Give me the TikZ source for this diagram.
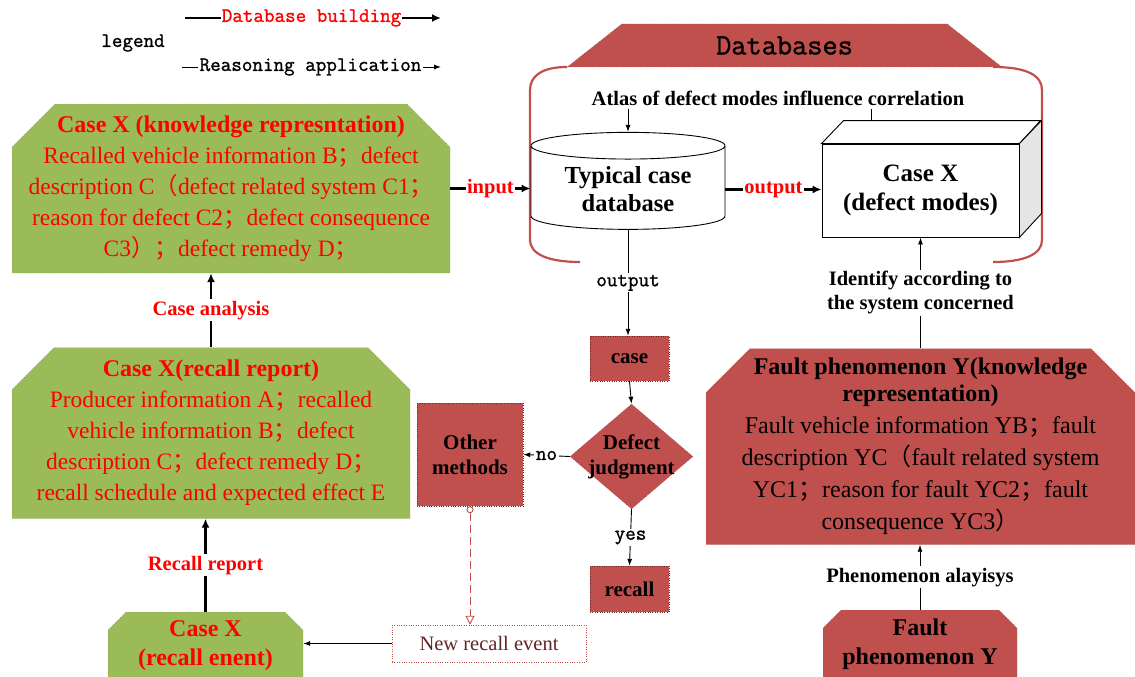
\documentclass[tikz,border=0pt]{standalone}
\usepackage{fontspec}
\setmainfont{Liberation Serif}
\setmonofont{Latin Modern Mono}[FakeBold=1.2]
\newfontfamily\cjkfont{Noto Sans CJK SC}
\newcommand{\cj}[1]{{\cjkfont #1}}
\newcommand{\fs}[2]{\fontsize{#1}{#2}\selectfont}
\usetikzlibrary{shapes.geometric,shapes.misc,arrows.meta,calc}
\definecolor{boxgreen}{RGB}{155,187,89}
\definecolor{boxred}{RGB}{192,80,77}
\definecolor{eventtext}{RGB}{99,37,35}

\begin{document}
\begin{tikzpicture}[x=1pt,y=-1pt]
	\tikzset{
		greenbox/.style={chamfered rectangle, chamfered rectangle corners={north west,north east},
			fill=boxgreen, draw=black!65, dotted, text=red, align=center, inner sep=0pt},
		redbox/.style={fill=boxred, draw=boxred!55!black, dotted, align=center,
			font=\bfseries\fs{21}{25}, inner sep=0pt},
		mono/.style={font=\ttfamily\fs{20.5}{20}},
		lab/.style={fill=white, inner sep=1.5pt},
		redlab/.style={lab, text=red, font=\bfseries\fs{20.5}{22}},
		fat/.style={line width=2.2pt, -{Latex[length=9pt,width=8pt]}},
		slim/.style={line width=0.9pt, -{Latex[length=7pt,width=5pt]}}
	}
	\useasboundingbox (0,0) rectangle (1135,677);

	% legend
	\node[mono] (legend) at (133,43) {legend};
	\node[mono, text=red, inner sep=1pt] (dbleg) at (311.5,18) {Database building};
	\node[mono, inner sep=1pt] (raleg) at (310.5,67) {Reasoning application};
	\coordinate (dbL) at (185,18);
	\coordinate (dbR) at (441,18);
	\coordinate (raL) at (182,67);
	\coordinate (raR) at (441,67);
	\draw[line width=2.2pt] (dbL) -- (dbleg.west);
	\draw[fat] (dbleg.east) -- (dbR);
	\draw[line width=0.9pt] (raL) -- (raleg.west);
	\draw[slim] (raleg.east) -- (raR);

	% databases
	\draw[boxred, line width=2.2pt] (567,67) .. controls (542,67) and (530,76) .. (530,90)
		-- (530,240) .. controls (530,254) and (548,262) .. (580,262);
	\draw[boxred, line width=2.2pt] (993,67) .. controls (1028,67) and (1042,76) .. (1042,90)
		-- (1042,240) .. controls (1042,254) and (1025,262) .. (993,262);
	\node[trapezium, trapezium angle=46, trapezium stretches=true, minimum width=435, minimum height=43,
		fill=boxred, draw=boxred!55!black, dotted, font=\ttfamily\fs{29.5}{29}] (dbs) at (784.5,45.5) {Databases};
	\node[font=\bfseries\fs{20.5}{24}] (atlas) at (778,98) {Atlas of defect modes influence correlation};
	\node[cylinder, shape border rotate=90, aspect=0.2, draw, fill=white, line width=0.9pt,
		minimum width=194, minimum height=97, align=center, font=\bfseries\fs{24.5}{28}] (typ) at (628,189.5) {Typical case\\database};
	\node[draw, fill=white, line width=0.9pt, minimum width=197, minimum height=93,
		align=center, font=\bfseries\fs{25}{29}] (defect) at (920.5,190.5) {Case X\\(defect modes)};
	\draw[line width=0.9pt, fill=white] (defect.north west) -- ++(22,-23) -- ++(197,0) -- (defect.north east) -- cycle;
	\draw[line width=0.9pt, fill=black!10] (defect.north east) -- ++(22,-23) -- ++(0,93) -- (defect.south east) -- cycle;
	\coordinate (cubetop) at ($(defect.north west)+(50,-23)$);

	% cases
	\node[greenbox, chamfered rectangle xsep=40, inner xsep=-40pt, minimum width=438, minimum height=169, font=\fs{23.5}{31}] (kr) at (231,188.5)
		{{\bfseries\fs{24}{31}Case X (knowledge represntation)}\\Recalled vehicle information B\cj{；}defect\\description C\cj{（}defect related system C1\cj{；}\\reason for defect C2\cj{；}defect consequence\\C3\cj{）；}defect remedy D\cj{；}};
	\node[greenbox, chamfered rectangle xsep=39, inner xsep=-39pt, minimum width=398, minimum height=171, font=\fs{23.5}{31}] (rr) at (211,433)
		{{\bfseries\fs{24}{31}Case X(recall report)}\\Producer information A\cj{；}recalled\\vehicle information B\cj{；}defect\\description C\cj{；}defect remedy D\cj{；}\\recall schedule and expected effect E};
	\node[greenbox, chamfered rectangle xsep=15, inner xsep=-15pt, minimum width=195, minimum height=67, font=\bfseries\fs{24}{29}] (event) at (205.5,645.5)
		{Case X\\(recall enent)};

	% judgment
	\node[redbox, minimum width=79, minimum height=45] (case) at (629.5,358.5) {case};
	\node[redbox, diamond, aspect=1.17, minimum width=123, minimum height=105, inner xsep=-16pt, inner ysep=-12pt] (judge) at (631.5,456.5) {Defect\\judgment};
	\node[redbox, minimum width=106, minimum height=103] (other) at (470,454.5) {Other\\methods};
	\node[redbox, minimum width=79, minimum height=46] (recall) at (629.5,589) {recall};
	\node[draw=boxred, dotted, minimum width=194, minimum height=37, text=eventtext, font=\fs{20.5}{22}] (newev) at (489,643.5) {New recall event};

	% fault
	\node[redbox, chamfered rectangle, chamfered rectangle corners={north west,north east}, chamfered rectangle xsep=41, inner xsep=-41pt,
		minimum width=429, minimum height=196, font=\fs{24}{32}] (fkr) at (920.5,446.5)
		{{\bfseries\fs{24}{32}Fault phenomenon Y(knowledge}\\[-5pt]{\bfseries\fs{24}{32}representation)}\\Fault vehicle information YB\cj{；}fault\\description YC\cj{（}fault related system\\YC1\cj{；}reason for fault YC2\cj{；}fault\\consequence YC3\cj{）}};
	\node[redbox, chamfered rectangle, chamfered rectangle corners={north west,north east}, chamfered rectangle xsep=15, inner xsep=-15pt,
		minimum width=194, minimum height=69, font=\bfseries\fs{24}{29}] (fy) at (920,644.5) {Fault\\phenomenon Y};

	% connectors
	\draw[fat] (kr.east) -- (kr.east -| typ.west) node[redlab, midway] {input};
	\draw[fat] (typ.east) -- (typ.east -| defect.west) node[redlab, midway] {output};
	\draw[slim] (atlas.south -| typ.north) -- (typ.north);
	\draw[line width=0.9pt] (atlas.south -| cubetop) -- (cubetop);
	\draw[slim] (typ.south) -- (typ.south |- case.north) node[lab, midway, mono] {output};
	\draw[slim] (case.south) -- (judge.north);
	\draw[slim] (judge.west) -- (other.east) node[lab, midway, mono] {no};
	\draw[slim] (judge.south) -- (recall.north) node[lab, midway, mono] {yes};
	\draw[boxred, dash pattern=on 8pt off 4pt, line width=0.9pt,
		{Circle[open,length=7pt]}-{Triangle[open,length=9pt,width=9pt]}]
		(other.south) -- (other.south |- newev.north);
	\draw[slim] (newev.west) -- (newev.west -| event.east);
	\draw[fat] (event.north) -- (event.north |- rr.south) node[redlab, midway] {Recall report};
	\draw[fat] (rr.north) -- (rr.north |- kr.south) node[redlab, midway] {Case analysis};
	\draw[slim] (fy.north) -- (fy.north |- fkr.south) node[lab, midway, font=\bfseries\fs{20.5}{22}] {Phenomenon alayisys};
	\draw[slim] (fkr.north) -- (fkr.north |- defect.south) node[lab, midway, align=center, font=\bfseries\fs{20.5}{24}]
		{Identify according to\\the system concerned};
\end{tikzpicture}
\end{document}
